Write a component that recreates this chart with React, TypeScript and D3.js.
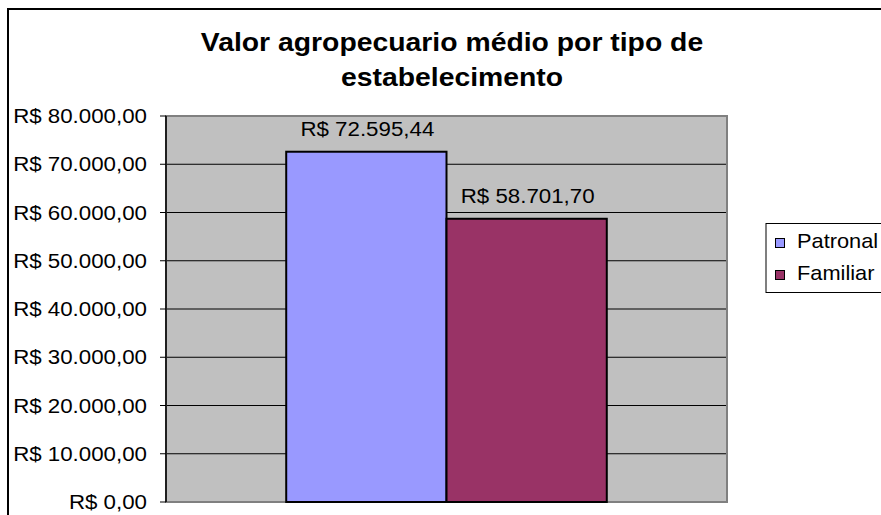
import React from "react";
import * as d3 from "d3";

// dados
const categories = [""];
const seriesNames = ["Patronal", "Familiar"];
const seriesValues = [72595.44, 58701.7];
const seriesColors = ["#9999FF", "#993366"];
const yTickValues = [0, 10000, 20000, 30000, 40000, 50000, 60000, 70000, 80000];
const titleLines = ["Valor agropecuario médio por tipo de", "estabelecimento"];

const W = 881;
const H = 515;
const plot = { left: 166, right: 727, top: 116, bottom: 502 };
const FONT = "'Liberation Sans', Arial, sans-serif";

const locale = d3.formatLocale({
  decimal: ",",
  thousands: ".",
  grouping: [3],
  currency: ["R$ ", ""],
});
const money = locale.format("$,.2f");

const App = () => {
  const y = d3
    .scaleLinear()
    .domain([0, 80000])
    .range([plot.bottom, plot.top]);

  // Excel: gap width 150%
  const x0 = d3
    .scaleBand()
    .domain(categories)
    .range([plot.left, plot.right])
    .paddingInner(0)
    .paddingOuter(0.375);

  const x1 = d3
    .scaleBand()
    .domain(seriesNames)
    .range([0, x0.bandwidth()]);

  const sx = 1.115; // texto um pouco mais largo que a Arial

  return (
    <svg
      width={W}
      height={H}
      style={{ position: "absolute", left: 0, top: 0, background: "#fff" }}
      fontFamily={FONT}
    >
      {/* borda externa */}
      <rect x={8} y={9} width={1000} height={700} fill="#fff" stroke="#000" strokeWidth={2} />

      {/* título */}
      {titleLines.map((t, i) => (
        <text
          key={i}
          transform={`translate(452,${51 + i * 35}) scale(1.134,1)`}
          textAnchor="middle"
          fontSize={25}
          fontWeight="bold"
          fill="#000"
        >
          {t}
        </text>
      ))}

      {/* área de plotagem */}
      <rect
        x={plot.left}
        y={plot.top}
        width={plot.right - plot.left}
        height={plot.bottom - plot.top}
        fill="#C0C0C0"
      />

      {/* grade */}
      {yTickValues
        .filter((v) => v > 0 && v < 80000)
        .map((v) => (
          <line
            key={v}
            x1={plot.left}
            x2={plot.right}
            y1={y(v)}
            y2={y(v)}
            stroke="#000"
            strokeWidth={1}
          />
        ))}

      {/* borda cinza da plotagem */}
      <rect
        x={plot.left}
        y={plot.top}
        width={plot.right - plot.left}
        height={plot.bottom - plot.top}
        fill="none"
        stroke="#808080"
        strokeWidth={2}
      />

      {/* barras */}
      {categories.map((c) =>
        seriesNames.map((s, i) => (
          <rect
            key={s}
            x={(x0(c) ?? 0) + (x1(s) ?? 0)}
            y={y(seriesValues[i])}
            width={x1.bandwidth()}
            height={plot.bottom - y(seriesValues[i])}
            fill={seriesColors[i]}
            stroke="#000"
            strokeWidth={2}
          />
        ))
      )}

      {/* rótulos das barras */}
      {categories.map((c) =>
        seriesNames.map((s, i) => (
          <text
            key={s}
            transform={`translate(${(x0(c) ?? 0) + (x1(s) ?? 0) + x1.bandwidth() / 2 + 1},${
              y(seriesValues[i]) - 16
            }) scale(${sx},1)`}
            textAnchor="middle"
            fontSize={20}
            fill="#000"
          >
            {money(seriesValues[i])}
          </text>
        ))
      )}

      {/* eixo y */}
      <line x1={plot.left} x2={plot.left} y1={plot.top} y2={plot.bottom} stroke="#000" strokeWidth={1.5} />
      {yTickValues.map((v) => (
        <g key={v}>
          <line x1={plot.left - 6} x2={plot.left} y1={y(v)} y2={y(v)} stroke="#000" strokeWidth={1} />
          <text
            transform={`translate(147,${y(v) + 7}) scale(${sx},1)`}
            textAnchor="end"
            fontSize={20}
            fill="#000"
          >
            {money(v)}
          </text>
        </g>
      ))}

      {/* legenda */}
      <rect x={766} y={223.5} width={130} height={69} fill="#fff" stroke="#000" strokeWidth={1} />
      {seriesNames.map((s, i) => (
        <g key={s}>
          <rect
            x={775.5}
            y={238.5 + i * 32}
            width={9}
            height={9}
            fill={seriesColors[i]}
            stroke="#000"
            strokeWidth={1}
          />
          <text
            transform={`translate(797,${247.5 + i * 32}) scale(1.09,1)`}
            fontSize={20}
            fill="#000"
          >
            {s}
          </text>
        </g>
      ))}
    </svg>
  );
};

export default App;
